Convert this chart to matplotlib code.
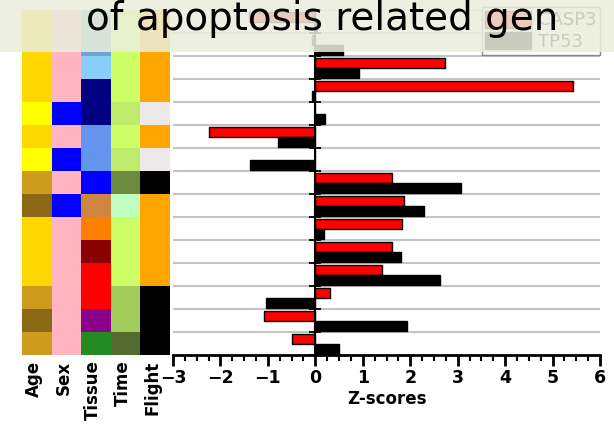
import numpy as np
import matplotlib
matplotlib.use("Agg")
import matplotlib.pyplot as plt
from matplotlib.colors import to_rgb
from matplotlib.patches import Rectangle, Patch

plt.rcParams['font.family'] = ['DejaVu Sans']

# rows top to bottom (first two sit under the title band)
red_z = [-1.39, -0.07, 2.74, 5.44, 0.0, -2.24, 0.0, 1.62, 1.86, 1.83, 1.62, 1.41, 0.30, -1.08, -0.49]
tp53_z = [0.03, 0.58, 0.92, -0.08, 0.21, -0.79, -1.37, 3.07, 2.28, 0.18, 1.80, 2.62, -1.03, 1.93, 0.49]

# annotation colours per row
age = ['#FFD700', '#FFD700', '#FFD700', '#FFD700', '#FFFF00', '#FFD700', '#FFFF00', '#CD9B1D',
       '#8B6914', '#FFD700', '#FFD700', '#FFD700', '#CD9B1D', '#8B6914', '#CD9B1D']
sex = ['#FFB6C1', '#FFB6C1', '#FFB6C1', '#FFB6C1', '#0000FF', '#FFB6C1', '#0000FF', '#FFB6C1',
       '#0000FF', '#FFB6C1', '#FFB6C1', '#FFB6C1', '#FFB6C1', '#FFB6C1', '#FFB6C1']
tissue = ['#6CA6CD', '#6CA6CD', '#87CEFA', '#000080', '#000080', '#6495ED', '#6495ED', '#0000FF',
          '#CD853F', '#FF7F00', '#8B0000', '#FF0000', '#FF0000', '#8B008B', '#228B22']
time = ['#CCFF66', '#CCFF66', '#CCFF66', '#CCFF66', '#BFEB6A', '#CCFF66', '#BFEB6A', '#6E8B3D',
        '#C1FFC1', '#CCFF66', '#CCFF66', '#CCFF66', '#A2CD5A', '#A2CD5A', '#556B2F']
flight = ['#FFA500', '#FFA500', '#FFA500', '#FFA500', '#EEE9E9', '#FFA500', '#EEE9E9', '#000000',
          '#FFA500', '#FFA500', '#FFA500', '#FFA500', '#000000', '#000000', '#000000']
col_labels = ['Age', 'Sex', 'Tissue', 'Time', 'Flight']
legend_labels = ['CASP3', 'TP53']
title = 'of apoptosis related gen'

n = len(red_z)
W, H = 614, 426
fig = plt.figure(figsize=(W / 100, H / 100), dpi=100)

bot = (H - 355) / H
hgt = (355 - 10) / H

# annotation heatmap
axh = fig.add_axes([22 / W, bot, 148 / W, hgt])
img = np.array([[to_rgb(c) for c in row] for row in zip(age, sex, tissue, time, flight)])
axh.imshow(img, aspect='auto', extent=(0, 5, n, 0), interpolation='nearest')
axh.set_xlim(0, 5)
axh.set_ylim(n, 0)
for s in axh.spines.values():
    s.set_visible(False)
axh.set_yticks([])
axh.set_xticks(np.arange(5) + 0.4)
axh.set_xticklabels(col_labels, rotation=90, fontsize=12, fontweight='bold', va='top')
axh.tick_params(axis='x', length=0, pad=4)

# bar chart
ax = fig.add_axes([173 / W, bot, 427 / W, hgt])
y = np.arange(n)
ax.barh(y + 0.31, red_z, height=0.42, color='#FF0000', edgecolor='black', linewidth=1, zorder=3)
ax.barh(y + 0.73, tp53_z, height=0.42, color='black', edgecolor='black', linewidth=1, zorder=3)
ax.set_xlim(-3, 6)
ax.set_ylim(n, 0)
ax.set_xticks(np.arange(-3, 7))
ax.set_xticks(np.arange(-3, 6.01, 0.25), minor=True)
ax.set_yticks(np.arange(n + 1))
ax.set_yticklabels([])
for yy in range(n):
    ax.axhline(yy, color='#C4C4C4', lw=1.5, zorder=1)
ax.spines['top'].set_visible(False)
ax.spines['right'].set_visible(False)
ax.spines['left'].set_position(('data', 0))
ax.spines['left'].set_linewidth(1.5)
ax.spines['left'].set_zorder(4)
ax.spines['bottom'].set_linewidth(2)
ax.tick_params(axis='y', direction='inout', length=9, width=1.3)
ax.tick_params(axis='x', which='major', direction='out', length=8, width=2, labelsize=12.5,
               pad=2)
ax.tick_params(axis='x', which='minor', direction='out', length=4, width=1.5)
for lab in ax.get_xticklabels():
    lab.set_fontweight('bold')
ax.set_xlabel('Z-scores', fontsize=12, fontweight='bold', labelpad=2)

handles = [Patch(facecolor='#FF0000', edgecolor='black'), Patch(facecolor='black', edgecolor='black')]
leg = ax.legend(handles, legend_labels, loc='upper right', bbox_to_anchor=(600 / W, 1 - 7 / H),
                bbox_transform=fig.transFigure, borderaxespad=0, fancybox=False, fontsize=13,
                handlelength=2.5, handleheight=1.1, labelspacing=0.15, borderpad=0.2,
                handletextpad=0.4, edgecolor='#888888', framealpha=1)
leg.set_zorder(5)

# pale title band laid over the top of the figure
band = Rectangle((0, 1 - 52 / H), 1, 52 / H, transform=fig.transFigure,
                 facecolor='#EBEEDD', alpha=0.86, zorder=20)
fig.patches.append(band)
fig.text(86 / W, 1 - 30 / H, title, fontsize=28, ha='left', va='baseline', zorder=30)

fig.savefig('out.png', dpi=100)
